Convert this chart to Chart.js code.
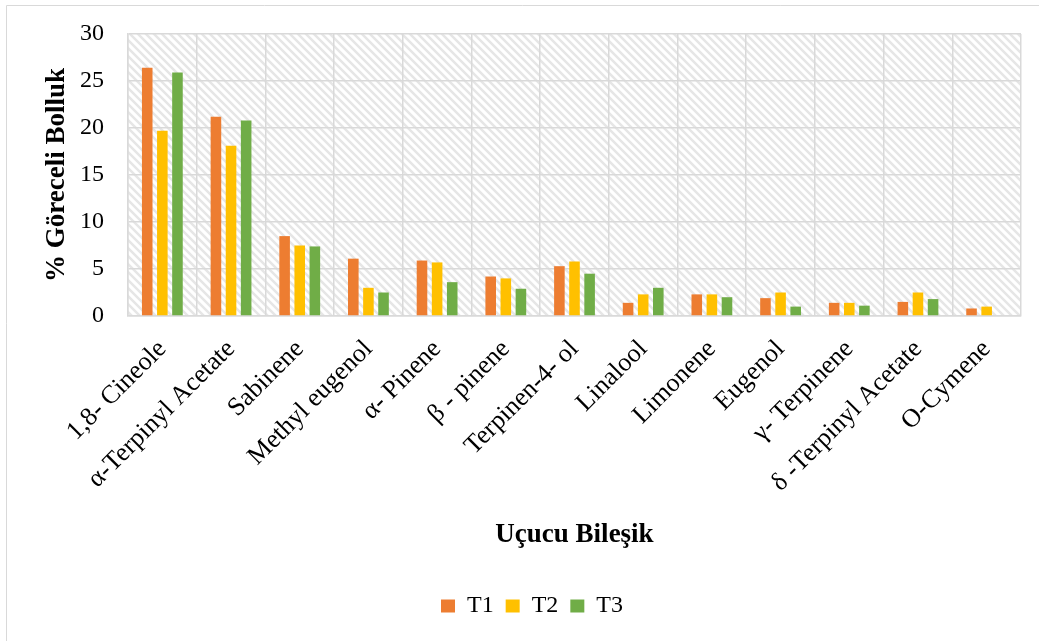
<!DOCTYPE html>
<html>
<head>
<meta charset="utf-8">
<script src="https://cdn.jsdelivr.net/npm/chart.js@4.4.1/dist/chart.umd.min.js"></script>
<style>
  body { margin: 0; background: #fff; }
  #wrap { width: 1039px; height: 641px; position: relative; }
</style>
</head>
<body>
<div id="wrap"><canvas id="chart" width="1039" height="641"></canvas></div>
<script>
var compounds = ["1,8- Cineole", "α-Terpinyl Acetate", "Sabinene", "Methyl eugenol", "α- Pinene", "β - pinene", "Terpinen-4- ol", "Linalool", "Limonene", "Eugenol", "γ- Terpinene", "δ -Terpinyl Acetate", "O-Cymene"]
var t1 = [26.4, 21.2, 8.5, 6.1, 5.9, 4.2, 5.3, 1.4, 2.3, 1.9, 1.4, 1.5, 0.8]
var t2 = [19.7, 18.1, 7.5, 3.0, 5.7, 4.0, 5.8, 2.3, 2.3, 2.5, 1.4, 2.5, 1.0]
var t3 = [25.9, 20.8, 7.4, 2.5, 3.6, 2.9, 4.5, 3.0, 2.0, 1.0, 1.1, 1.8, 0]
var yTicks = [0, 5, 10, 15, 20, 25, 30]

var serif = "'Liberation Serif', 'Times New Roman', serif"
var gridColor = "#d9d9d9"

// diagonal hatch used as the plot background
function makeHatch(ctx){
    var tile = document.createElement("canvas")
    tile.width = 8
    tile.height = 8
    var t = tile.getContext("2d")
    t.fillStyle = "#fff"
    t.fillRect(0, 0, 8, 8)
    t.strokeStyle = "#e6e6e6"
    t.lineWidth = 2.5
    t.beginPath()
    t.moveTo(-2, -2); t.lineTo(10, 10)
    t.moveTo(-10, -2); t.lineTo(2, 10)
    t.moveTo(6, -2); t.lineTo(18, 10)
    t.stroke()
    return ctx.createPattern(tile, "repeat")
}

var backdrop = {
    id: "backdrop",
    beforeDraw(chart){
        var ctx = chart.ctx
        var a = chart.chartArea
        ctx.save()
        // outer frame (left and top edges)
        ctx.strokeStyle = "#d9d9d9"
        ctx.lineWidth = 1
        ctx.beginPath()
        ctx.moveTo(6.5, chart.height)
        ctx.lineTo(6.5, 5.5)
        ctx.lineTo(chart.width, 5.5)
        ctx.stroke()
        ctx.fillStyle = makeHatch(ctx)
        ctx.fillRect(a.left, a.top, a.right - a.left, a.bottom - a.top)
        ctx.restore()
    }
}

var ctx = document.getElementById("chart")
var chart = new Chart(ctx, {
    type: "bar",
    data: {
        labels: compounds,
        datasets: [
            { label: "T1", data: t1, backgroundColor: "#ED7D31" },
            { label: "T2", data: t2, backgroundColor: "#FFC000" },
            { label: "T3", data: t3, backgroundColor: "#70AD47" }
        ]
    },
    options: {
        responsive: false,
        animation: false,
        devicePixelRatio: 1,
        categoryPercentage: 0.66,
        barPercentage: 0.7,
        layout: { padding: { left: 43, right: 18, top: 34, bottom: 13 } },
        scales: {
            y: {
                min: 0,
                max: 30,
                afterFit(scale){
                    scale.width = 85
                    scale.paddingTop = 0
                    scale.paddingBottom = 0
                },
                afterBuildTicks(scale){ scale.ticks = yTicks.map(v => ({ value: v })) },
                ticks: { color: "#000", padding: 24, font: { family: serif, size: 24 } },
                grid: { color: gridColor, lineWidth: 1.5, drawTicks: false },
                border: { color: gridColor, width: 1.5 },
                title: {
                    display: true,
                    text: "% Göreceli Bolluk",
                    color: "#000",
                    padding: { top: -2, bottom: 0 },
                    font: { family: serif, size: 27, weight: "bold" }
                }
            },
            x: {
                afterFit(scale){ scale.height = 266 },
                ticks: {
                    color: "#000",
                    minRotation: 45,
                    maxRotation: 45,
                    padding: 18,
                    font: { family: serif, size: 26 }
                },
                grid: { color: gridColor, lineWidth: 1.5, drawTicks: false },
                border: { color: gridColor, width: 1.5 },
                title: {
                    display: true,
                    text: "Uçucu Bileşik",
                    color: "#000",
                    padding: { top: 0, bottom: 31 },
                    font: { family: serif, size: 27, weight: "bold" }
                }
            }
        },
        plugins: {
            legend: {
                position: "bottom",
                labels: {
                    color: "#000",
                    boxWidth: 14,
                    boxHeight: 13,
                    padding: 12,
                    font: { family: serif, size: 24 }
                }
            },
            tooltip: { enabled: false }
        }
    },
    plugins: [backdrop]
})
</script>
</body>
</html>
